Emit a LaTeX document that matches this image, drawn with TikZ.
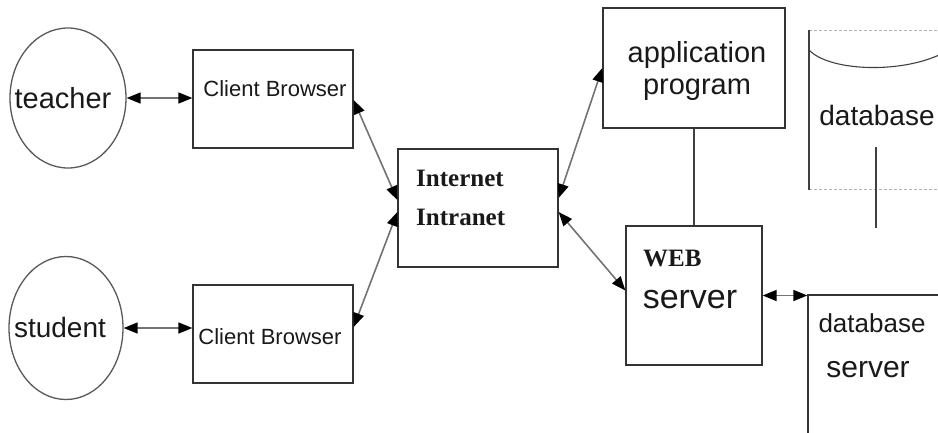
\documentclass[tikz,border=0pt]{standalone}
\usepackage{fontspec}
\setmainfont{Liberation Sans}
\newfontfamily\tms{Liberation Serif}
\usetikzlibrary{shapes.geometric,arrows.meta}
\tikzset{
  boxnode/.style={draw=black!80,line width=1.3pt,rectangle,inner sep=0pt},
  oval/.style={draw=black!65,line width=1.3pt,ellipse,inner sep=0pt},
  lbl/.style={inner sep=0pt,text=black!90},
  tip/.tip={Triangle[length=14pt,width=11pt,fill=black,color=black]},
  conn/.style={draw=black!55,line width=1.6pt,tip-tip},
  plain/.style={draw=black!75,line width=1.3pt},
  dashline/.style={draw=black!30,line width=1pt,dash pattern=on 3pt off 2pt}
}
\newcommand{\fs}[1]{\fontsize{#1}{#1}\selectfont}
\begin{document}
\begin{tikzpicture}[x=1pt,y=-1pt]
\useasboundingbox (0,0) rectangle (938,432);
\clip (0,0) rectangle (938,432);
% ellipses
\node[oval,minimum width=116pt,minimum height=140pt] (teacher) at (68,98) {};
\node[lbl,font=\fs{29}] (teachertxt) at (63,98) {teacher};
\node[oval,minimum width=114pt,minimum height=143pt] (student) at (66,328) {};
\node[lbl,font=\fs{28}] (studenttxt) at (60,327) {student};
% client browsers
\node[boxnode,minimum width=160pt,minimum height=98pt] (cbt) at (273,99) {};
\node[lbl,font=\fs{22}] (cbttxt) at (275,89) {Client Browser};
\node[boxnode,minimum width=160pt,minimum height=98pt] (cbb) at (273,334) {};
\node[lbl,font=\fs{22}] (cbbtxt) at (270,337) {Client Browser};
% internet
\node[boxnode,minimum width=160pt,minimum height=118pt] (inet) at (478,208) {};
\node[lbl,anchor=west,font=\tms\bfseries\fs{25}] (inet1) at (416,178) {Internet};
\node[lbl,anchor=west,font=\tms\bfseries\fs{25}] (inet2) at (416,217) {Intranet};
% application program
\node[boxnode,minimum width=182pt,minimum height=120pt] (app) at (694,68) {};
\node[lbl,font=\fs{29}] (app1) at (697,55) {application};
\node[lbl,font=\fs{29}] (app2) at (697,90) {program};
% web server
\node[boxnode,minimum width=136pt,minimum height=139pt] (web) at (694,295.5) {};
\node[lbl,anchor=west,font=\tms\bfseries\fs{25}] (web1) at (643,258) {WEB};
\node[lbl,font=\fs{34}] (web2) at (690,300) {server};
% database server
\node[boxnode,minimum width=140pt,minimum height=150pt] (dbs) at (878,370) {};
\node[lbl,font=\fs{26}] (dbs1) at (872,323) {database};
\node[lbl,font=\fs{30}] (dbs2) at (868,370) {server};
% database cylinder
\coordinate (cyltl) at (809,30);
\coordinate (cylbl) at (809,190);
\draw[dashline] (cyltl) -- (945,30);
\draw[dashline] (809,189) -- (945,189);
\draw[plain] (cyltl) -- (cylbl);
\draw[plain,line width=1.1pt] (809,50) .. controls (830,72) and (905,74) .. (945,52);
\node[lbl,font=\fs{28}] (db) at (877,115) {database};
\coordinate (dbl1) at (876,147);
\coordinate (dbl2) at (876,228);
\draw[plain] (dbl1) -- (dbl2);
% connectors
\draw[conn] (teacher.east) -- (cbt.west |- teacher.east);
\draw[conn] (student.east) -- (cbb.west |- student.east);
\draw[conn] ([yshift=-1pt]cbt.east) -- ([yshift=8pt]inet.west);
\draw[conn] ([yshift=-4pt]inet.west) -- ([yshift=7pt]cbb.east);
\draw[conn] ([yshift=10pt]inet.east) -- (app.west);
\draw[conn] ([yshift=-4pt]inet.east) -- ([yshift=5pt]web.west);
\draw[plain] (app.south) -- (web.north);
\draw[conn] (web.east) -- (web.east -| dbs.west);
\end{tikzpicture}
\end{document}
